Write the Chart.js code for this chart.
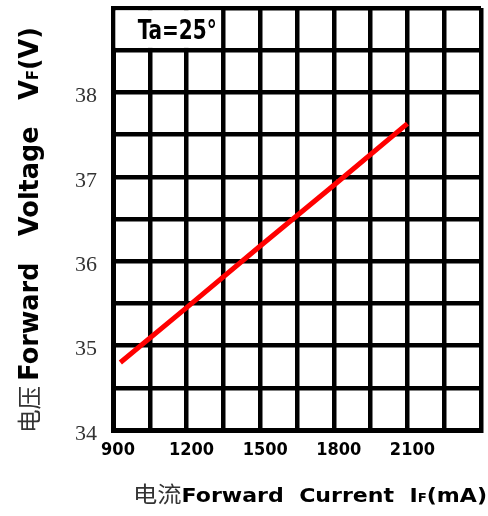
<!DOCTYPE html>
<html>
<head>
<meta charset="utf-8">
<script src="https://cdn.jsdelivr.net/npm/chart.js@4.4.1/dist/chart.umd.min.js"></script>
<style>
    html, body { margin: 0; padding: 0; background: #fff; }
    #wrap { width: 488px; height: 516px; }
</style>
</head>
<body>
<div id="wrap"><canvas id="vfChart" width="488" height="516"></canvas></div>
<script>
// --------------------
// Data
// --------------------
const currentMA = [930, 1200, 1500, 1800, 2100];
const voltageV = [34.8, 35.45, 36.18, 36.9, 37.63];

const xTickLabels = [900, 1200, 1500, 1800, 2100];
const yTickLabels = [34, 35, 36, 37, 38];

const noteText = 'Ta=25°';

// --------------------
// Text helper: draws mixed-font segments fitted to a given width
// --------------------
function drawSegments(ctx, segments, width) {
    let total = 0;
    segments.forEach(s => {
        ctx.font = s.font;
        s.w = ctx.measureText(s.text).width;
        total += s.w;
    });
    const k = width / total;
    ctx.save();
    ctx.scale(k, 1);
    let x = 0;
    segments.forEach(s => {
        ctx.font = s.font;
        ctx.fillStyle = s.color || '#000';
        ctx.fillText(s.text, x, 0);
        x += s.w;
    });
    ctx.restore();
}

const BOLD = '"DejaVu Sans", sans-serif';
const CJK = '"Noto Sans CJK SC", sans-serif';

// --------------------
// Plugin: merged note cell + axis titles
// --------------------
const decorPlugin = {
    id: 'decor',
    beforeDatasetsDraw(chart) {
        const { ctx, scales } = chart;
        const x = scales.x, y = scales.y;
        const l = x.getPixelForValue(900) + 2.3;
        const r = x.getPixelForValue(1350) - 2.3;
        const t = y.getPixelForValue(39) + 2.3;
        const b = y.getPixelForValue(38.5) - 2.3;
        ctx.save();
        ctx.fillStyle = '#fff';
        ctx.fillRect(l, t, r - l, b - t);
        const noteW = 79;
        ctx.translate((l + r) / 2 - noteW / 2 + 9, (t + b) / 2 + 10);
        ctx.textBaseline = 'alphabetic';
        drawSegments(ctx, [
            { text: noteText, font: 'bold 27px "DejaVu Sans Condensed", ' + BOLD }
        ], noteW);
        ctx.restore();
    },
    afterDraw(chart) {
        const { ctx } = chart;
        ctx.save();
        ctx.textBaseline = 'alphabetic';

        // x title
        ctx.save();
        ctx.translate(133, 502);
        drawSegments(ctx, [
            { text: '电流', font: '22px ' + CJK, color: '#333' },
            { text: 'Forward  Current  I', font: 'bold 20px ' + BOLD },
            { text: 'F', font: 'bold 12px ' + BOLD },
            { text: '(mA)', font: 'bold 20px ' + BOLD }
        ], 354);
        ctx.restore();

        // y title
        ctx.save();
        ctx.translate(38, 433);
        ctx.rotate(-Math.PI / 2);
        drawSegments(ctx, [
            { text: '电压 ', font: '24px ' + CJK, color: '#333' },
            { text: 'Forward   Voltage   V', font: 'bold 26px ' + BOLD },
            { text: 'F', font: 'bold 15px ' + BOLD },
            { text: '(V)', font: 'bold 26px ' + BOLD }
        ], 406);
        ctx.restore();

        ctx.restore();
    }
};

// --------------------
// Chart
// --------------------
const ctx = document.getElementById('vfChart').getContext('2d');

new Chart(ctx, {
    type: 'scatter',
    data: {
        datasets: [{
            data: currentMA.map((v, i) => ({ x: v, y: voltageV[i] })),
            showLine: true,
            borderColor: '#ff0000',
            borderWidth: 5,
            pointRadius: 0,
            fill: false
        }]
    },
    options: {
        responsive: false,
        animation: false,
        layout: { padding: { left: 0, right: 7, top: 8, bottom: 0 } },
        plugins: {
            legend: { display: false },
            tooltip: { enabled: false }
        },
        scales: {
            x: {
                type: 'linear',
                min: 900,
                max: 2400,
                afterFit(scale) {
                    scale.height = 86;
                    scale.paddingLeft = 0;
                    scale.paddingRight = 0;
                },
                grid: { color: '#000', lineWidth: 4.5, drawTicks: false },
                border: { color: '#000', width: 5 },
                ticks: {
                    stepSize: 150,
                    padding: 10,
                    labelOffset: 5,
                    maxRotation: 0,
                    autoSkip: false,
                    color: '#000',
                    font: { family: '"DejaVu Sans Condensed", ' + BOLD, weight: 'bold', size: 18 },
                    callback: v => xTickLabels.includes(v) ? String(v) : ''
                }
            },
            y: {
                type: 'linear',
                min: 34,
                max: 39,
                afterFit(scale) {
                    scale.width = 113;
                    scale.paddingTop = 0;
                    scale.paddingBottom = 0;
                },
                grid: { color: '#000', lineWidth: 4.5, drawTicks: false },
                border: { color: '#000', width: 5 },
                ticks: {
                    stepSize: 0.5,
                    padding: 16,
                    labelOffset: 4,
                    autoSkip: false,
                    color: '#333',
                    font: { family: '"Liberation Serif", serif', size: 22 },
                    callback: v => yTickLabels.includes(v) ? String(v) : ''
                }
            }
        }
    },
    plugins: [decorPlugin]
});
</script>
</body>
</html>
